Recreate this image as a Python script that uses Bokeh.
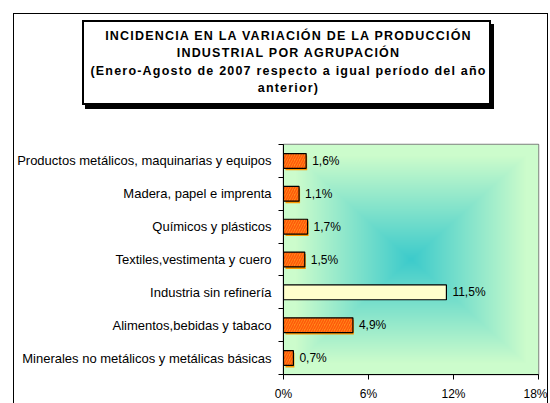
import numpy as np
from bokeh.plotting import figure
from bokeh.layouts import column
from bokeh.models import Range1d, FixedTicker, ColumnDataSource, Div
from bokeh.embed import file_html
from bokeh.resources import INLINE
from bokeh.core.properties import value

# ---------------- data (bottom to top) ----------------
categories = [
    "Minerales no metálicos y metálicas básicas",
    "Alimentos,bebidas y tabaco",
    "Industria sin refinería",
    "Textiles,vestimenta y cuero",
    "Químicos y plásticos",
    "Madera, papel e imprenta",
    "Productos metálicos, maquinarias y equipos",
]
values = [0.7, 4.9, 11.5, 1.5, 1.7, 1.1, 1.6]
value_labels = ["0,7%", "4,9%", "11,5%", "1,5%", "1,7%", "1,1%", "1,6%"]
highlight = "Industria sin refinería"
x_ticks = [0, 6, 12, 18]
x_tick_labels = ["0%", "6%", "12%", "18%"]
title_lines = [
    "INCIDENCIA EN LA VARIACIÓN DE LA PRODUCCIÓN",
    "INDUSTRIAL POR AGRUPACIÓN",
    "(Enero-Agosto de 2007 respecto a igual período del año",
    "anterior)",
]

FONT = "Liberation Sans"
n = len(categories)
ys = list(range(n))
x_min, x_max = x_ticks[0], x_ticks[-1]
y_min, y_max = -0.5, n - 0.5

# ---------------- title header ----------------
title_html = (
    '<div style="position:relative; left:68px; top:6px; width:409px; height:85px; '
    'box-sizing:border-box; border:2px solid black; box-shadow:3px 4px 0 0 black; '
    'background:white; text-align:center; font-family:\'Liberation Sans\', Arial, sans-serif; '
    'font-weight:bold; font-size:12.5px; letter-spacing:1.2px; line-height:17.3px; '
    'padding-top:6px; padding-left:4px; color:black;">' + "<br>".join(title_lines) + '</div>'
)
header = Div(text=title_html, width=533, height=110, margin=0)

# ---------------- chart ----------------
p = figure(width=533, height=279, output_backend="svg", toolbar_location=None,
           x_range=Range1d(x_min, x_max), y_range=Range1d(y_min, y_max),
           min_border_left=269, min_border_right=9, min_border_top=20,
           min_border_bottom=28, margin=0)
p.background_fill_color = "white"
p.border_fill_color = "white"
p.outline_line_color = "#808080"
p.outline_line_width = 1.5
p.xgrid.grid_line_color = None
p.ygrid.grid_line_color = None

# background gradient (rectangular, from centre)
H, W = 231, 255
yy, xx = np.mgrid[0:H, 0:W]
dx = np.abs((xx + 0.5) / W * 2 - 1)
dy = np.abs((yy + 0.5) / H * 2 - 1)
t = np.clip(np.maximum(dx, dy) / 0.9, 0, 1)
c0 = np.array([0x3C, 0xCB, 0xCB], dtype=float)
c1 = np.array([0xCC, 0xFC, 0xCC], dtype=float)
rgb = c0 + (c1 - c0) * t[..., None]
img = np.empty((H, W), dtype=np.uint32)
view = img.view(dtype=np.uint8).reshape((H, W, 4))
view[..., 0] = rgb[..., 0].astype(np.uint8)
view[..., 1] = rgb[..., 1].astype(np.uint8)
view[..., 2] = rgb[..., 2].astype(np.uint8)
view[..., 3] = 255
p.image_rgba(image=[img], x=x_min, y=y_min, dw=x_max - x_min, dh=y_max - y_min)

# bars
px_x = (x_max - x_min) / 255.0
px_y = (y_max - y_min) / 231.0
reg_idx = [i for i, c in enumerate(categories) if c != highlight]
hi_idx = [i for i, c in enumerate(categories) if c == highlight]

reg = ColumnDataSource(dict(
    y=[ys[i] for i in reg_idx],
    v=[values[i] for i in reg_idx],
    ys=[ys[i] - 2 * px_y for i in reg_idx],
    vl=[2 * px_x for i in reg_idx],
    vs=[values[i] + 1 * px_x for i in reg_idx],
))
hi = ColumnDataSource(dict(
    y=[ys[i] for i in hi_idx],
    v=[values[i] for i in hi_idx],
))

BAR_H = 0.45
p.hbar(y="ys", left="vl", right="vs", height=BAR_H, source=reg,
       fill_color="#FF9900", line_color=None)
p.hbar(y="y", left=0, right="v", height=BAR_H, source=reg,
       fill_color="#FF8C1A", line_color="black", line_width=1.2,
       hatch_pattern="right_diagonal_line", hatch_color="#FF3300",
       hatch_alpha=0.6, hatch_scale=5, hatch_weight=1.5)
p.hbar(y="y", left=0, right="v", height=BAR_H, source=hi,
       fill_color="#FFFFCC", line_color="black", line_width=1.2)

lab = ColumnDataSource(dict(x=values, y=ys, t=value_labels))
p.text(x="x", y="y", text="t", source=lab, x_offset=6,
       text_align="left", text_baseline="middle",
       text_font=value(FONT), text_font_size="12px", text_color="black")

# axes
ya = p.yaxis[0]
ya.ticker = FixedTicker(ticks=ys, minor_ticks=[y - 0.5 for y in ys] + [ys[-1] + 0.5])
ya.major_label_overrides = {y: c for y, c in zip(ys, categories)}
ya.major_tick_line_color = None
ya.major_tick_out = 5
ya.major_tick_in = 0
ya.minor_tick_line_color = "black"
ya.minor_tick_out = 5
ya.minor_tick_in = 0
ya.major_label_standoff = 7
ya.axis_line_color = "black"
ya.major_label_text_font = FONT
ya.major_label_text_font_size = "13px"
ya.major_label_text_color = "black"

xa = p.xaxis[0]
xa.ticker = FixedTicker(ticks=x_ticks, minor_ticks=[])
xa.major_label_overrides = {k: l for k, l in zip(x_ticks, x_tick_labels)}
xa.major_tick_line_color = "black"
xa.major_tick_out = 5
xa.major_tick_in = 0
xa.minor_tick_line_color = None
xa.major_label_standoff = 7
xa.axis_line_color = "black"
xa.major_label_text_font = FONT
xa.major_label_text_font_size = "12px"
xa.major_label_text_color = "black"

layout = column(header, p, spacing=0, margin=(14, 0, 0, 14),
                styles={"outline": "1px solid black"})

open("out.html", "w").write(file_html(layout, INLINE))
